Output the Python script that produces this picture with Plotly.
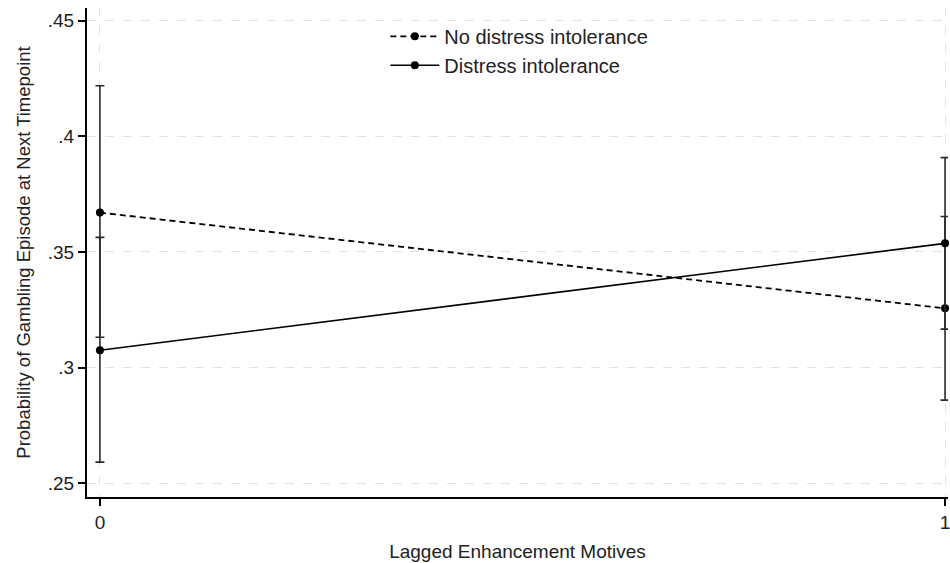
import plotly.graph_objects as go

# Data
x_vals = [0, 1]
x_tick_labels = ["0", "1"]
no_distress = [0.367, 0.3256]
no_distress_lo = [0.3131, 0.2859]
no_distress_hi = [0.4219, 0.3653]
distress = [0.3075, 0.3537]
distress_lo = [0.2591, 0.3166]
distress_hi = [0.3563, 0.3908]
y_ticks = [0.25, 0.30, 0.35, 0.40, 0.45]
y_tick_labels = [".25", ".3", ".35", ".4", ".45"]

FONT = "Liberation Sans, Arial, sans-serif"

def err(center, lo, hi):
    return dict(
        type="data", symmetric=False,
        array=[h - c for c, h in zip(center, hi)],
        arrayminus=[c - l for c, l in zip(center, lo)],
        color="#2a2a2a", thickness=1.6, width=4.5,
    )

fig = go.Figure()
fig.add_trace(go.Scatter(
    x=x_vals, y=no_distress, mode="lines+markers",
    name="No distress intolerance",
    line=dict(color="black", width=1.8, dash="6px,4px"),
    marker=dict(color="black", size=8),
    error_y=err(no_distress, no_distress_lo, no_distress_hi),
    cliponaxis=False,
))
fig.add_trace(go.Scatter(
    x=x_vals, y=distress, mode="lines+markers",
    name="Distress intolerance",
    line=dict(color="black", width=1.6),
    marker=dict(color="black", size=8),
    error_y=err(distress, distress_lo, distress_hi),
    cliponaxis=False,
))

fig.update_layout(
    width=950, height=563,
    margin=dict(l=87, r=0, t=8, b=66),
    paper_bgcolor="white", plot_bgcolor="white",
    font=dict(family=FONT, size=19, color="#222"),
    showlegend=True,
    legend=dict(
        x=0.3465, y=0.982, xanchor="left", yanchor="top",
        bgcolor="rgba(0,0,0,0)", font=dict(size=20),
        tracegroupgap=0, itemwidth=49,
    ),
)
fig.update_xaxes(
    range=[-0.0153, 1.0035],
    tickvals=x_vals, ticktext=x_tick_labels,
    ticks="outside", ticklen=7, tickwidth=1.5, tickcolor="black",
    ticklabeloverflow="allow",
    showline=True, linecolor="black", linewidth=2,
    showgrid=True, gridcolor="#e2e2e2", griddash="dash", gridwidth=1.2,
    zeroline=False,
    title=dict(text="Lagged Enhancement Motives", font=dict(size=19), standoff=13),
)
fig.update_yaxes(
    range=[0.2440, 0.4555],
    tickvals=y_ticks, ticktext=y_tick_labels,
    ticks="outside", ticklen=7, tickwidth=1.5, tickcolor="black",
    showline=True, linecolor="black", linewidth=2,
    showgrid=True, gridcolor="#e2e2e2", griddash="dash", gridwidth=1.2,
    zeroline=False,
    title=dict(text="Probability of Gambling Episode at Next Timepoint", font=dict(size=18.5), standoff=12),
)

# remove the default 8px page margin so the 950x563 figure fills the window
fig.write_html(
    "out.html",
    config={"displayModeBar": False},
    post_script="document.body.style.margin='0';document.body.style.overflow='hidden';",
)
